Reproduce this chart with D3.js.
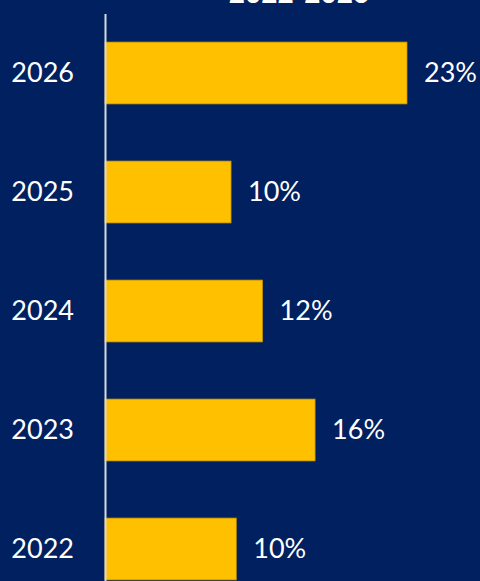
<!DOCTYPE html>
<html>
<head>
<meta charset="utf-8">
<script src="https://cdn.jsdelivr.net/npm/d3@7"></script>
<style>
  html, body { margin: 0; padding: 0; background: #002060; }
  #chart { width: 480px; height: 581px; overflow: hidden; }
</style>
</head>
<body>
<div id="chart"></div>
<script>
var TITLE  = "2022-2026";
var years  = ["2026", "2025", "2024", "2023", "2022"];
var shares = [23, 9.6, 12, 16, 10]; // percent

(function () {
    var W = 480, H = 581;
    var margin = { left: 105 };

    var svg = d3.select("#chart")
        .append("svg")
        .attr("width", W)
        .attr("height", H)
        .style("font-family", "Lato, 'Open Sans', sans-serif");

    svg.append("rect")
        .attr("width", W).attr("height", H)
        .attr("fill", "#002060");

    var data = years.map(function (y, i) { return { year: y, value: shares[i] }; });

    var x = d3.scaleLinear()
        .domain([0, 23])
        .range([margin.left, margin.left + 302]);

    var y = d3.scaleBand()
        .domain(years)
        .range([13.5, 608.5])
        .paddingInner(0.48)
        .paddingOuter(0.24);

    // title (partly off the top edge, as in the source)
    svg.append("text")
        .attr("x", 299).attr("y", 3)
        .attr("text-anchor", "middle")
        .attr("fill", "#fff")
        .attr("font-size", 28)
        .attr("font-weight", "bold")
        .text(TITLE);

    // bars
    svg.selectAll(".bar")
        .data(data)
        .enter().append("rect")
        .attr("class", "bar")
        .attr("x", x(0))
        .attr("y", function (d) { return y(d.year); })
        .attr("width", function (d) { return x(d.value) - x(0); })
        .attr("height", y.bandwidth())
        .attr("fill", "#ffc000")
        .attr("stroke", "#bf9000")
        .attr("stroke-width", 0.75);

    // value labels
    svg.selectAll(".val")
        .data(data)
        .enter().append("text")
        .attr("class", "val")
        .attr("x", function (d) { return x(d.value) + 17; })
        .attr("y", function (d) { return y(d.year) + y.bandwidth() / 2; })
        .attr("dy", "0.35em")
        .attr("fill", "#fff")
        .attr("font-size", 27)
        .text(function (d) { return Math.round(d.value) + "%"; });

    // category axis
    var axis = svg.append("g")
        .attr("transform", "translate(" + x(0) + ",0)")
        .call(d3.axisLeft(y).tickSize(0).tickPadding(31));

    axis.select(".domain")
        .attr("stroke", "#d9d9d9")
        .attr("stroke-width", 2);
    axis.selectAll("text")
        .attr("fill", "#fff")
        .attr("font-size", 27)
        .style("font-family", "Lato, 'Open Sans', sans-serif");
}());
</script>
</body>
</html>
